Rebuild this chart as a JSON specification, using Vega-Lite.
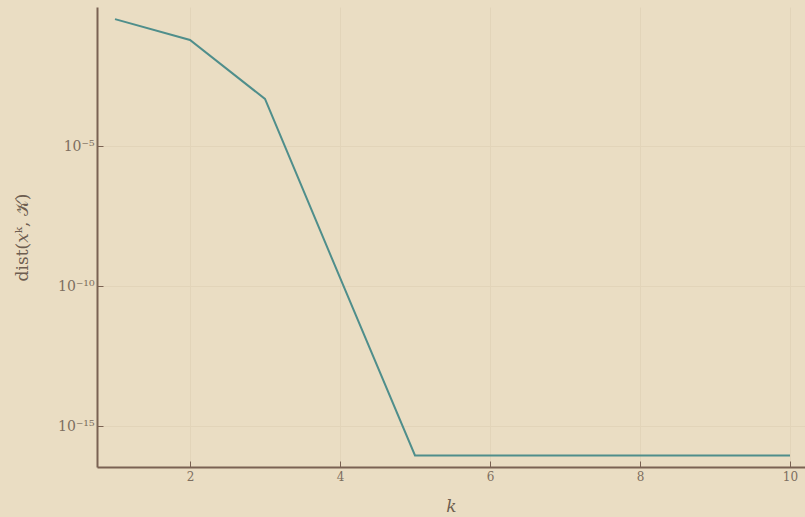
{
  "$schema": "https://vega.github.io/schema/vega-lite/v6.json",
  "width": 708,
  "height": 460,
  "autosize": {"type": "none"},
  "padding": {"left": 97, "top": 7, "right": 0, "bottom": 50},
  "background": "#EADDC3",
  "config": {
    "view": {"stroke": null, "fill": "#EADDC3"},
    "axis": {
      "labelFont": "DejaVu Serif",
      "titleFont": "DejaVu Serif",
      "labelColor": "#7d6e60",
      "titleColor": "#6e5e50",
      "domainColor": "#7a6253",
      "domainWidth": 2,
      "tickColor": "#7a6253",
      "gridColor": "#e2d4b9",
      "gridWidth": 1,
      "labelFontSize": 12,
      "titleFontSize": 17,
      "titleFontWeight": "normal"
    }
  },
  "data": {
    "values": [
      {"k": 1, "d": 0.34},
      {"k": 2, "d": 0.061},
      {"k": 3, "d": 0.00048},
      {"k": 4, "d": 2e-10},
      {"k": 5, "d": 9e-17},
      {"k": 6, "d": 9e-17},
      {"k": 7, "d": 9e-17},
      {"k": 8, "d": 9e-17},
      {"k": 9, "d": 9e-17},
      {"k": 10, "d": 9e-17}
    ]
  },
  "mark": {"type": "line", "color": "#4f8e8b", "strokeWidth": 2, "clip": true},
  "encoding": {
    "x": {
      "field": "k",
      "type": "quantitative",
      "scale": {"domain": [0.76, 10.2], "nice": false, "zero": false},
      "axis": {
        "values": [2, 4, 6, 8, 10],
        "tickSize": -6,
        "labelPadding": 10,
        "title": "𝑘",
        "titlePadding": 16
      }
    },
    "y": {
      "field": "d",
      "type": "quantitative",
      "scale": {"type": "log", "domain": [3.5e-17, 0.92], "nice": false},
      "axis": {
        "values": [1e-5, 1e-10, 1e-15],
        "tickSize": -6,
        "labelPadding": 9,
        "labelFontSize": 14,
        "labelExpr": "datum.value > 1e-6 ? '10⁻⁵' : (datum.value > 1e-11 ? '10⁻¹⁰' : '10⁻¹⁵')",
        "title": "dist(𝑥ᵏ, 𝒦)",
        "titlePadding": 26
      }
    }
  }
}
